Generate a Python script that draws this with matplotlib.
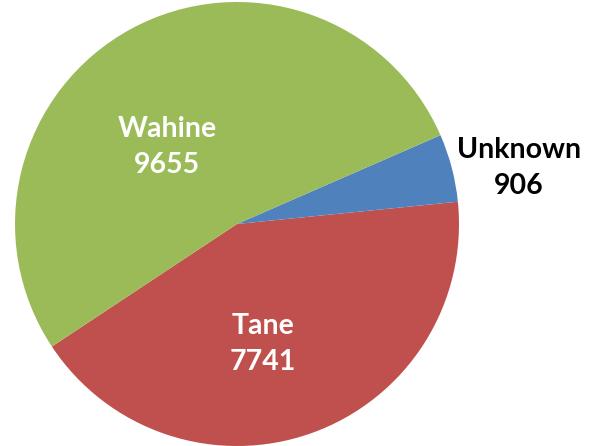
import matplotlib
matplotlib.use('agg')
import matplotlib.pyplot as plt

labels = ["Tane", "Unknown", "Wahine"]
values = [7741, 906, 9655]
colors = ["#C0504D", "#4F81BD", "#9BBB59"]

plt.rcParams.update({"font.family": ["Lato", "DejaVu Sans"], "font.weight": "bold"})

fig = plt.figure(figsize=(6, 4.46), dpi=100)
ax = fig.add_axes([0, 0, 1, 1])

ax.pie(values, colors=colors, startangle=-146.5, counterclock=True,
       center=(237, 222), radius=222, frame=True,
       wedgeprops={'linewidth': 0})
ax.set_xlim(0, 600)
ax.set_ylim(0, 446)
ax.set_aspect('equal')
ax.axis('off')

# data labels
pos = {"Wahine": (167, 446 - 147, 'white'),
       "Tane": (263, 446 - 344, 'white'),
       "Unknown": (519, 446 - 168, 'black')}
for lab, v in zip(labels, values):
    x, y, c = pos[lab]
    ax.text(x, y, lab + "\n" + str(v), ha='center', va='center', color=c,
            fontsize=20.5, fontweight='bold', linespacing=1.45)

plt.savefig("out.png", dpi=100)
